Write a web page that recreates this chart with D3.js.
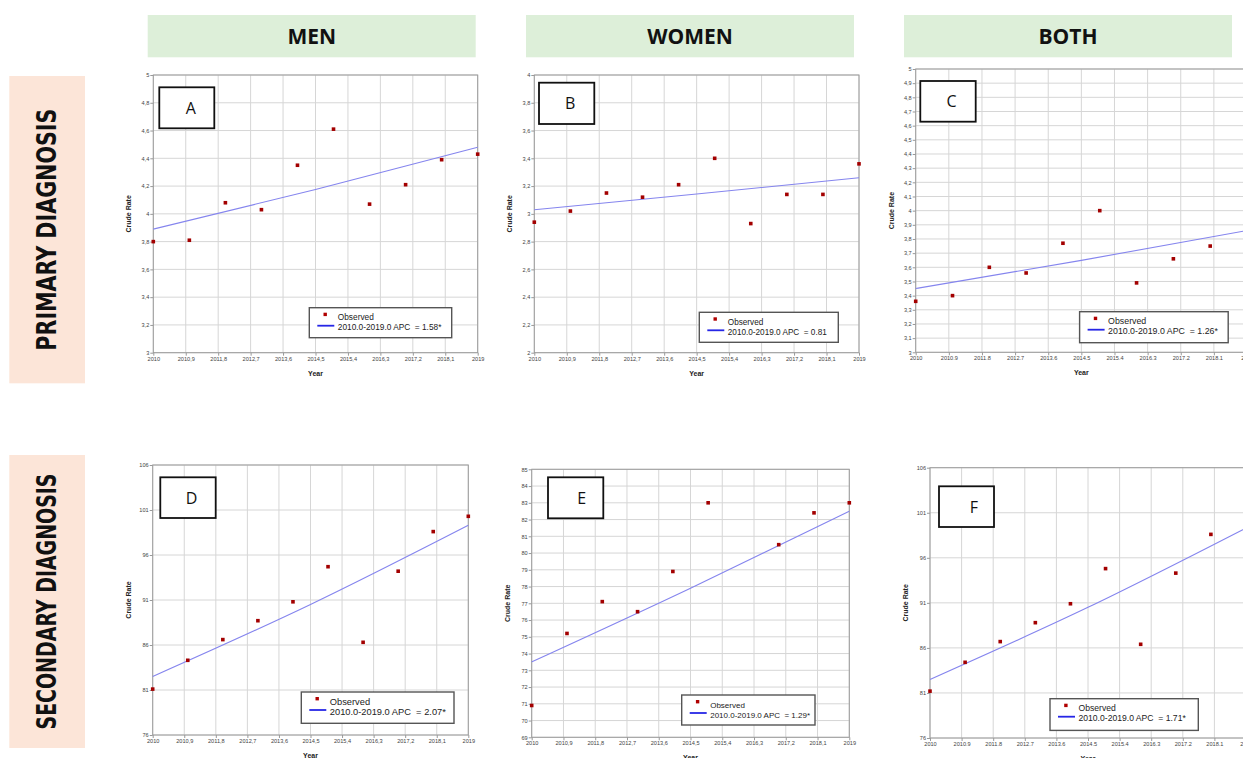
<!DOCTYPE html>
<html>
<head>
<meta charset="utf-8">
<script src="https://cdn.jsdelivr.net/npm/d3@7"></script>
<style>
body{margin:0;background:#fff;}
svg{display:block;font-family:"Liberation Sans",Arial,sans-serif;}
</style>
</head>
<body>
<div id="plot"></div>
<script>
// values (crude rate by year)
var years = [2010, 2011, 2012, 2013, 2014, 2015, 2016, 2017, 2018, 2019];
var menPrimary = [3.80, 3.81, 4.08, 4.03, 4.35, 4.61, 4.07, 4.21, 4.39, 4.43];
var womenPrimary = [2.94, 3.02, 3.15, 3.12, 3.21, 3.40, 2.93, 3.14, 3.14, 3.36];
var bothPrimary = [3.36, 3.40, 3.60, 3.56, 3.77, 4.00, 3.49, 3.66, 3.75, 3.90];
var menSecondary = [81.1, 84.3, 86.6, 88.7, 90.8, 94.7, 86.3, 94.2, 98.6, 100.3];
var womenSecondary = [70.9, 75.2, 77.1, 76.5, 78.9, 83.0, 70.5, 80.5, 82.4, 83.0];
var bothSecondary = [81.2, 84.4, 86.7, 88.8, 90.9, 94.8, 86.4, 94.3, 98.6, 100.3];

// fitted line, start / middle / end
var trendYears = [2010, 2014.5, 2019];
var menPrimaryTrend = [3.89, 4.175, 4.48];
var womenPrimaryTrend = [3.03, 3.143, 3.26];
var bothPrimaryTrend = [3.45, 3.649, 3.86];
var menSecondaryTrend = [82.5, 90.5, 99.3];
var womenSecondaryTrend = [73.5, 77.9, 82.5];
var bothSecondaryTrend = [82.5, 90.5, 99.3];

var apcLabels = ['1.58*', '0.81', '1.26*', '2.07*', '1.29*', '1.71*'];
var panelTags = ['A', 'B', 'C', 'D', 'E', 'F'];
var columnNames = ['MEN', 'WOMEN', 'BOTH'];
var rowNames = ['PRIMARY DIAGNOSIS', 'SECONDARY DIAGNOSIS'];

var xTicks = [2010, 2010.9, 2011.8, 2012.7, 2013.6, 2014.5, 2015.4, 2016.3, 2017.2, 2018.1, 2019];
var menPrimaryTicks = [3, 3.2, 3.4, 3.6, 3.8, 4, 4.2, 4.4, 4.6, 4.8, 5];
var womenPrimaryTicks = [2, 2.2, 2.4, 2.6, 2.8, 3, 3.2, 3.4, 3.6, 3.8, 4];
var bothPrimaryTicks = [3, 3.1, 3.2, 3.3, 3.4, 3.5, 3.6, 3.7, 3.8, 3.9, 4, 4.1, 4.2, 4.3, 4.4, 4.5, 4.6, 4.7, 4.8, 4.9, 5];
var secondaryTicks = [76, 81, 86, 91, 96, 101, 106];
var womenSecondaryTicks = [69, 70, 71, 72, 73, 74, 75, 76, 77, 78, 79, 80, 81, 82, 83, 84, 85];

var W = 1243, H = 758;
var svg = d3.select('#plot')
	.append('svg')
	.attr('width', W)
	.attr('height', H);

// layout of each panel (pixels)
var panels = [
	{v:menPrimary, t:menPrimaryTrend, yt:menPrimaryTicks, xsep:',',
	 p:[153.3, 477.7, 75, 352.7], tag:[159.3, 87.3, 55, 41, 4], lg:[309.3, 307.7, 142.4, 30, 8.3]},
	{v:womenPrimary, t:womenPrimaryTrend, yt:womenPrimaryTicks, xsep:',',
	 p:[534.3, 859, 75, 352.7], tag:[539, 82.7, 55.3, 41.3, 3.5], lg:[699.3, 312.3, 139, 30, 8.2]},
	{v:bothPrimary, t:bothPrimaryTrend, yt:bothPrimaryTicks, xsep:'.',
	 p:[915.7, 1247, 69, 352.3], tag:[920.3, 81, 55.4, 40.7, 3.5], lg:[1079.6, 311.7, 148.6, 31, 8.8]},
	{v:menSecondary, t:menSecondaryTrend, yt:secondaryTicks, xsep:',',
	 p:[152.7, 468.3, 465, 735], tag:[160.3, 477.3, 55.4, 40.7, 3.5], lg:[301.3, 692, 152.7, 31.3, 9.3]},
	{v:womenSecondary, t:womenSecondaryTrend, yt:womenSecondaryTicks, xsep:',',
	 p:[531.7, 849.3, 469.3, 737.3], tag:[548, 477.3, 55.3, 41, 6], lg:[681.7, 695, 133.3, 30, 8.0]},
	{v:bothSecondary, t:bothSecondaryTrend, yt:secondaryTicks, xsep:'.',
	 p:[930, 1246, 467.7, 738], tag:[939, 486.3, 55, 40.7, 7.5], lg:[1050, 698.7, 148.3, 31.7, 8.6]}
];

// column headers
var headerX = [147.7, 526, 904];
columnNames.forEach(function (name, i) {
	svg.append('rect')
		.attr('x', headerX[i]).attr('y', 15)
		.attr('width', 328).attr('height', 42.3)
		.attr('fill', '#ddefd9');
	svg.append('text')
		.attr('x', headerX[i] + 164).attr('y', 44)
		.attr('text-anchor', 'middle')
		.style('font-family', '"Open Sans", sans-serif')
		.style('font-weight', 'bold')
		.style('font-size', '21px')
		.attr('fill', '#111')
		.text(name);
});

// row labels
var rowBox = [[76, 307.3, 242], [455, 293, 256]];
rowNames.forEach(function (name, i) {
	var b = rowBox[i];
	svg.append('rect')
		.attr('x', 9.3).attr('y', b[0])
		.attr('width', 75.7).attr('height', b[1])
		.attr('fill', '#fce5d8');
	var cy = b[0] + b[1] / 2;
	svg.append('text')
		.attr('transform', 'translate(55.5,' + cy + ') rotate(-90)')
		.attr('text-anchor', 'middle')
		.attr('textLength', b[2])
		.attr('lengthAdjust', 'spacingAndGlyphs')
		.style('font-family', '"Liberation Sans Narrow", "DejaVu Sans Condensed", sans-serif')
		.style('font-weight', 'bold')
		.style('font-size', '26px')
		.attr('fill', '#111')
		.text(name);
});

panels.forEach(function (pn, i) {
	var x0 = pn.p[0], x1 = pn.p[1], y0 = pn.p[2], y1 = pn.p[3];
	var g = svg.append('g');
	var x = d3.scaleLinear().domain([2010, 2019]).range([x0, x1]);
	var y = d3.scaleLinear().domain([pn.yt[0], pn.yt[pn.yt.length - 1]]).range([y1, y0]);

	g.append('rect')
		.attr('x', x0).attr('y', y0)
		.attr('width', x1 - x0).attr('height', y1 - y0)
		.attr('fill', '#fff');

	// grid
	g.selectAll('.gx').data(xTicks).enter().append('line')
		.attr('x1', function (d) { return x(d); }).attr('x2', function (d) { return x(d); })
		.attr('y1', y0).attr('y2', y1)
		.style('stroke', '#d6d6d6').style('stroke-width', '1px');
	g.selectAll('.gy').data(pn.yt).enter().append('line')
		.attr('x1', x0).attr('x2', x1)
		.attr('y1', function (d) { return y(d); }).attr('y2', function (d) { return y(d); })
		.style('stroke', '#d6d6d6').style('stroke-width', '1px');

	g.append('rect')
		.attr('x', x0).attr('y', y0)
		.attr('width', x1 - x0).attr('height', y1 - y0)
		.attr('fill', 'none')
		.style('stroke', '#9c9c9c').style('stroke-width', '1px');

	var yAxis = d3.axisLeft(y).tickValues(pn.yt).tickSize(3).tickPadding(1)
		.tickFormat(function (d) { return String(+d.toFixed(1)).replace('.', ','); });
	var xAxis = d3.axisBottom(x).tickValues(xTicks).tickSize(3).tickPadding(1)
		.tickFormat(function (d) { return String(+d.toFixed(1)).replace('.', pn.xsep); });

	var ya = g.append('g').attr('transform', 'translate(' + x0 + ',0)').call(yAxis);
	var xa = g.append('g').attr('transform', 'translate(0,' + y1 + ')').call(xAxis);
	[ya, xa].forEach(function (a) {
		a.select('.domain').remove();
		a.selectAll('line').style('stroke', '#999');
		a.selectAll('text')
			.style('font-size', '5.6px')
			.style('font-family', '"Liberation Sans", Arial, sans-serif')
			.attr('fill', '#444');
	});

	g.append('text')
		.attr('transform', 'translate(' + (x0 - 22) + ',' + ((y0 + y1) / 2) + ') rotate(-90)')
		.attr('text-anchor', 'middle')
		.style('font-size', '7px').style('font-weight', 'bold')
		.attr('fill', '#222')
		.text('Crude Rate');
	g.append('text')
		.attr('x', (x0 + x1) / 2).attr('y', y1 + 23)
		.attr('text-anchor', 'middle')
		.style('font-size', '7px').style('font-weight', 'bold')
		.attr('fill', '#222')
		.text('Year');

	// fitted line
	var line = d3.line()
		.x(function (d, k) { return x(trendYears[k]); })
		.y(function (d) { return y(d); })
		.curve(d3.curveNatural);
	g.append('path')
		.attr('d', line(pn.t))
		.attr('fill', 'none')
		.style('stroke', '#8585ee')
		.style('stroke-width', '1.1px');

	// observed
	g.selectAll('.pt').data(pn.v).enter().append('rect')
		.attr('x', function (d, k) { return x(years[k]) - 1.8; })
		.attr('y', function (d) { return y(d) - 1.8; })
		.attr('width', 3.6).attr('height', 3.6)
		.attr('fill', '#a30000');

	// panel tag
	var tg = pn.tag;
	g.append('rect')
		.attr('x', tg[0]).attr('y', tg[1])
		.attr('width', tg[2]).attr('height', tg[3])
		.attr('fill', '#fff')
		.style('stroke', '#111').style('stroke-width', '1.8px');
	g.append('text')
		.attr('x', tg[0] + tg[2] / 2 + tg[4]).attr('y', tg[1] + tg[3] / 2 + 6)
		.attr('text-anchor', 'middle')
		.style('font-family', '"Open Sans", sans-serif')
		.style('font-size', '16px')
		.attr('fill', '#111')
		.text(panelTags[i]);

	// legend
	var lg = pn.lg;
	var L = g.append('g').attr('transform', 'translate(' + lg[0] + ',' + lg[1] + ')');
	L.append('rect')
		.attr('width', lg[2]).attr('height', lg[3])
		.attr('fill', '#fff')
		.style('stroke', '#555').style('stroke-width', '1.4px');
	L.append('rect')
		.attr('x', 14.2).attr('y', 5).attr('width', 3.4).attr('height', 3.4)
		.attr('fill', '#b00000');
	L.append('line')
		.attr('x1', 8).attr('x2', 25).attr('y1', 18).attr('y2', 18)
		.style('stroke', '#2626e6').style('stroke-width', '1.8px');
	L.append('text')
		.attr('x', 28.5).attr('y', 12.5)
		.style('font-size', lg[4] + 'px')
		.attr('fill', '#222')
		.text('Observed');
	L.append('text')
		.attr('x', 28.5).attr('y', 22.8)
		.style('font-size', lg[4] + 'px')
		.style('white-space', 'pre')
		.attr('fill', '#222')
		.text('2010.0-2019.0 APC  = ' + apcLabels[i]);
});
</script>
</body>
</html>
